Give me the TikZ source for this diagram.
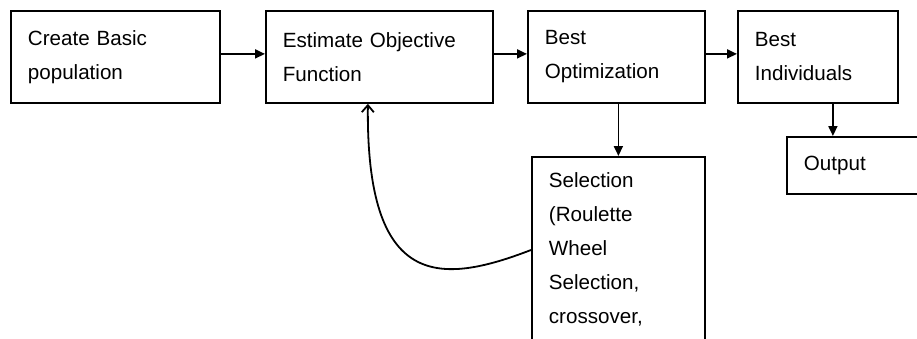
\documentclass[tikz,border=0pt]{standalone}
\usepackage{fontspec}
\setmainfont{Liberation Sans}
\usetikzlibrary{positioning, arrows.meta}

\begin{document}
\begin{tikzpicture}[
    x=0.5pt, y=-0.5pt,
    procbox/.style={rectangle, draw=black, line width=0.9pt, align=left,
                    inner xsep=8.5pt, minimum height=46pt, anchor=north west,
                    font=\fontsize{10.3}{17}\selectfont},
    flow/.style={line width=0.9pt, -{Triangle[length=5pt, width=4.5pt]}},
    back/.style={line width=0.9pt, -{Straight Barb[length=3.5pt, width=6pt]}},
  ]
    \useasboundingbox (0,0) rectangle (917,338);
    \clip (0,0) rectangle (917,338);

    % top row
    \node[procbox, text width=87.5pt] (create) at (10,10) {Create Basic\\population};
    \node[procbox, text width=96.5pt] (estimate) at (265,10) {Estimate Objective\\Function};
    \node[procbox, text width=71.5pt] (bestopt) at (527,10) {Best\\Optimization};
    \node[procbox, text width=63pt] (bestind) at (737,10) {Best\\Individuals};

    % lower boxes (cut off by the page edge)
    \node[procbox, text width=60pt, minimum height=28.5pt] (output) at (786,136) {Output};
    \node[procbox, text width=69.5pt, text height=8pt, text depth=90pt,
          inner ysep=7.5pt] (select) at (531,156)
      {Selection\\(Roulette\\Wheel\\Selection,\\crossover,};

    % connectors
    \draw[flow] ([yshift=1.5pt]create.east) -- ([yshift=1.5pt]estimate.west);
    \draw[flow] ([yshift=1.5pt]estimate.east) -- ([yshift=1.5pt]bestopt.west);
    \draw[flow] ([yshift=1.5pt]bestopt.east) -- ([yshift=1.5pt]bestind.west);
    \draw[flow] ([xshift=1pt]bestopt.south) -- ([xshift=1pt]bestopt.south |- select.north);
    \draw[flow] ([xshift=7.5pt]bestind.south) -- ([xshift=7.5pt]bestind.south |- output.north);

    % loop back
    \coordinate (loopstart) at ([yshift=-47pt]select.north west);
    \draw[back] (loopstart) .. controls +(-91,35) and +(-2,186) .. ([xshift=-5.75pt]estimate.south);
  \end{tikzpicture}
\end{document}
